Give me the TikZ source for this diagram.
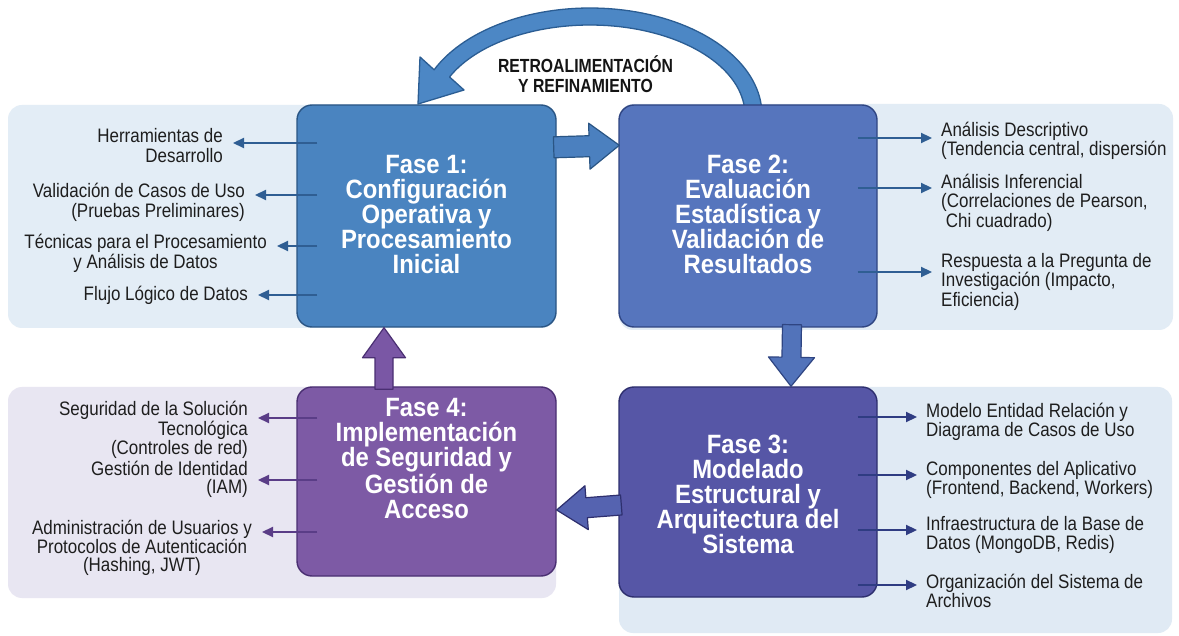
\documentclass[tikz,border=0pt]{standalone}
\usepackage{fontspec}
\setmainfont{Liberation Sans}[FakeStretch=0.87]
\newfontfamily\titlefont{Liberation Sans}[FakeStretch=0.9]
\newfontfamily\tagfont{Liberation Sans}[FakeStretch=0.83]
\usetikzlibrary{calc,arrows.meta}

% phase colours
\definecolor{fOne}{HTML}{4A84C0}  \definecolor{fOneD}{HTML}{2A5584}
\definecolor{fTwo}{HTML}{5675BD}  \definecolor{fTwoD}{HTML}{2F4582}
\definecolor{fThree}{HTML}{5656A6}\definecolor{fThreeD}{HTML}{2E2F6E}
\definecolor{fFour}{HTML}{7D5AA5} \definecolor{fFourD}{HTML}{4A2F72}
% panels
\definecolor{pTL}{HTML}{E3EDF6} \definecolor{pTR}{HTML}{E2ECF5}
\definecolor{pBL}{HTML}{E8E6F2} \definecolor{pBR}{HTML}{E0EAF4}
% connectors
\definecolor{cBlue}{HTML}{2F5E93} \definecolor{cPurple}{HTML}{5A3D87}
\definecolor{cNavy}{HTML}{2F3C82}
\definecolor{fbFill}{HTML}{4C87C5} \definecolor{fbLine}{HTML}{2B5D93}
\definecolor{aOneTwo}{HTML}{4B80BF} \definecolor{aTwoThree}{HTML}{5273BA}
\definecolor{aThreeFour}{HTML}{5563B0} \definecolor{aFourOne}{HTML}{7A57A5}
\definecolor{ink}{HTML}{1E1E1E}

% wide block arrow: style, from, to, shaft half width, head half width, head length
\newcommand\fatarrow[6]{%
  \coordinate (fah) at ($(#3)!#6!(#2)$);
  \draw[#1] ($(#2)!#4!90:(#3)$) -- ($(fah)!#4!-90:(#2)$) -- ($(fah)!#5!-90:(#2)$)
    -- (#3) -- ($(fah)!#5!90:(#2)$) -- ($(fah)!#4!90:(#2)$) -- ($(#2)!#4!-90:(#3)$) -- cycle;}

\begin{document}
\begin{tikzpicture}[x=1pt,y=-1pt,
  panel/.style={rounded corners=14pt},
  phase/.style={draw, rounded corners=15pt, line width=1.4pt, inner sep=0pt},
  ttl/.style={text=white, align=center, inner sep=0pt,
    font=\titlefont\bfseries\fontsize{26.5}{25}\selectfont},
  item/.style={text=ink, inner sep=1pt, font=\fontsize{19.5}{19.5}\selectfont},
  thinarr/.style={line width=2.2pt, -{Triangle[length=11pt,width=10pt]}},
  lconn/.style={thinarr, shorten >=9pt},
  rconn/.style={thinarr, shorten >=8pt},
  blk/.style={line width=1.2pt, line join=round},
  fbtag/.style={text=black!92, align=center, inner sep=0pt,
    font=\tagfont\bfseries\fontsize{19}{19.5}\selectfont}]

\useasboundingbox (0,0) rectangle (1179,636);
\fill[white] (0,0) rectangle (1179,636);

% background panels
\fill[pTL, panel] (8,105) rectangle (556,328);
\fill[pTR, panel] (619,104) rectangle (1173,330);
\fill[pBL, panel] (8,387) rectangle (556,598);
\fill[pBR, panel] (619,387) rectangle (1172,633);

% feedback loop from phase 2 back to phase 1
\filldraw[fill=fbFill, draw=fbLine, line width=1.3pt, line join=round]
  plot[domain=-4:155, samples=70] ({590+172*cos(\x)},{115-107*sin(\x)})
  -- (420,57) -- (418,104) -- (464,90)
  -- plot[domain=155:-4, samples=70] ({590+155*cos(\x)},{115-90*sin(\x)}) -- cycle;
\node[fbtag] (fb) at (585.5,74) {RETROALIMENTACIÓN\\Y REFINAMIENTO};

% phase boxes
\node[phase, fill=fOne, draw=fOneD, minimum width=259pt, minimum height=222pt] (b1) at (426.5,216) {};
\node[phase, fill=fTwo, draw=fTwoD, minimum width=258pt, minimum height=222pt] (b2) at (748,216) {};
\node[phase, fill=fThree, draw=fThreeD, minimum width=258pt, minimum height=210pt] (b3) at (748,492) {};
\node[phase, fill=fFour, draw=fFourD, minimum width=259pt, minimum height=189pt] (b4) at (426.5,481.5) {};

% flow between phases
\coordinate (a12s) at ($(b1.north east)+(-3,43)$);
\coordinate (a12e) at ($(b2.north west)+(1,41)$);
\coordinate (a23s) at ($(b2.south)+(44,-3)$);
\coordinate (a23e) at ($(b3.north)+(43,0)$);
\coordinate (a34s) at ($(b3.west)+(3,13)$);
\coordinate (a34e) at ($(b4.east)+(0,28.5)$);
\coordinate (a41s) at ($(b4.north)+(-42.5,3)$);
\coordinate (a41e) at ($(b1.south)+(-42.5,0)$);
\fatarrow{blk, fill=aOneTwo, draw=fOneD}{a12s}{a12e}{10.5pt}{23pt}{30pt}
\fatarrow{blk, fill=aTwoThree, draw=fTwoD}{a23s}{a23e}{9.5pt}{23pt}{29pt}
\fatarrow{blk, fill=aThreeFour, draw=fThreeD}{a34s}{a34e}{10pt}{22pt}{30pt}
\fatarrow{blk, fill=aFourOne, draw=fFourD}{a41s}{a41e}{9pt}{21.5pt}{30pt}

% phase titles
\node[ttl] (t1) at (426.5,214.5) {Fase 1:\\Configuración\\Operativa y\\Procesamiento\\Inicial};
\node[ttl] (t2) at (748,214.5) {Fase 2:\\Evaluación\\Estadística y\\Validación de\\Resultados};
\node[ttl] (t3) at (748,494) {Fase 3:\\Modelado\\Estructural y\\Arquitectura del\\Sistema};
\node[ttl] (t4) at (426.5,458.5) {Fase 4:\\Implementación\\de Seguridad y\\Gestión de\\Acceso};

% phase 1 items
\node[item, align=right, anchor=east] (tl1) at (224,145.5) {Herramientas de\\Desarrollo};
\node[item, align=right, anchor=east] (tl2) at (246,202.5) {Validación de Casos de Uso\\(Pruebas Preliminares)};
\node[item, align=center, anchor=east] (tl3) at (268,253.5) {Técnicas para el Procesamiento\\y Análisis de Datos};
\node[item, anchor=east] (tl4) at (249,295) {Flujo Lógico de Datos};
\coordinate (s1) at ($(b1.west)+(21,-73)$);
\coordinate (s2) at ($(b1.west)+(21,-21)$);
\coordinate (s3) at ($(b1.west)+(21,30)$);
\coordinate (s4) at ($(b1.west)+(21,79)$);
\foreach \k in {1,...,4} \draw[lconn, cBlue] (s\k) -- (s\k -| tl\k.east);

% phase 2 items
\node[item, align=left, anchor=west] (tr1) at (940,141) {Análisis Descriptivo\\(Tendencia central, dispersión};
\node[item, align=left, anchor=west] (tr2) at (940,202.5) {Análisis Inferencial\\(Correlaciones de Pearson,\\\ Chi cuadrado)};
\node[item, align=left, anchor=west] (tr3) at (940,281.5) {Respuesta a la Pregunta de\\Investigación (Impacto,\\Eficiencia)};
\coordinate (r1) at ($(b2.east)+(-20,-78)$);
\coordinate (r2) at ($(b2.east)+(-20,-28)$);
\coordinate (r3) at ($(b2.east)+(-20,56)$);
\foreach \k in {1,2,3} \draw[rconn, cBlue] (r\k) -- (r\k -| tr\k.west);

% phase 3 items
\node[item, align=left, anchor=west] (br1) at (925,422) {Modelo Entidad Relación y\\Diagrama de Casos de Uso};
\node[item, align=left, anchor=west] (br2) at (925,480) {Componentes del Aplicativo\\(Frontend, Backend, Workers)};
\node[item, align=left, anchor=west] (br3) at (925,535) {Infraestructura de la Base de\\Datos (MongoDB, Redis)};
\node[item, align=left, anchor=west] (br4) at (925,591) {Organización del Sistema de\\Archivos};
\coordinate (q1) at ($(b3.east)+(-20,-75)$);
\coordinate (q2) at ($(b3.east)+(-20,-17)$);
\coordinate (q3) at ($(b3.east)+(-20,38)$);
\coordinate (q4) at ($(b3.east)+(-20,93)$);
\foreach \k in {1,...,4} \draw[rconn, cNavy] (q\k) -- (q\k -| br\k.west);

% phase 4 items
\node[item, align=right, anchor=east, font=\fontsize{19.5}{18}\selectfont] (bl1) at (249,430)
  {Seguridad de la Solución\\Tecnológica\hspace*{66pt}\\(Controles de red)};
\node[item, align=right, anchor=east, font=\fontsize{19.5}{18}\selectfont] (bl2) at (249,479) {Gestión de Identidad\\(IAM)};
\node[item, align=center, anchor=east, font=\fontsize{19.5}{18}\selectfont] (bl3) at (253,548)
  {Administración de Usuarios y\\Protocolos de Autenticación\\(Hashing, JWT)};
\coordinate (p1) at ($(b4.west)+(21,-63.5)$);
\coordinate (p2) at ($(b4.west)+(21,-1.5)$);
\coordinate (p3) at ($(b4.west)+(21,50.5)$);
\foreach \k in {1,2,3} \draw[lconn, cPurple] (p\k) -- (p\k -| bl\k.east);
\end{tikzpicture}
\end{document}
